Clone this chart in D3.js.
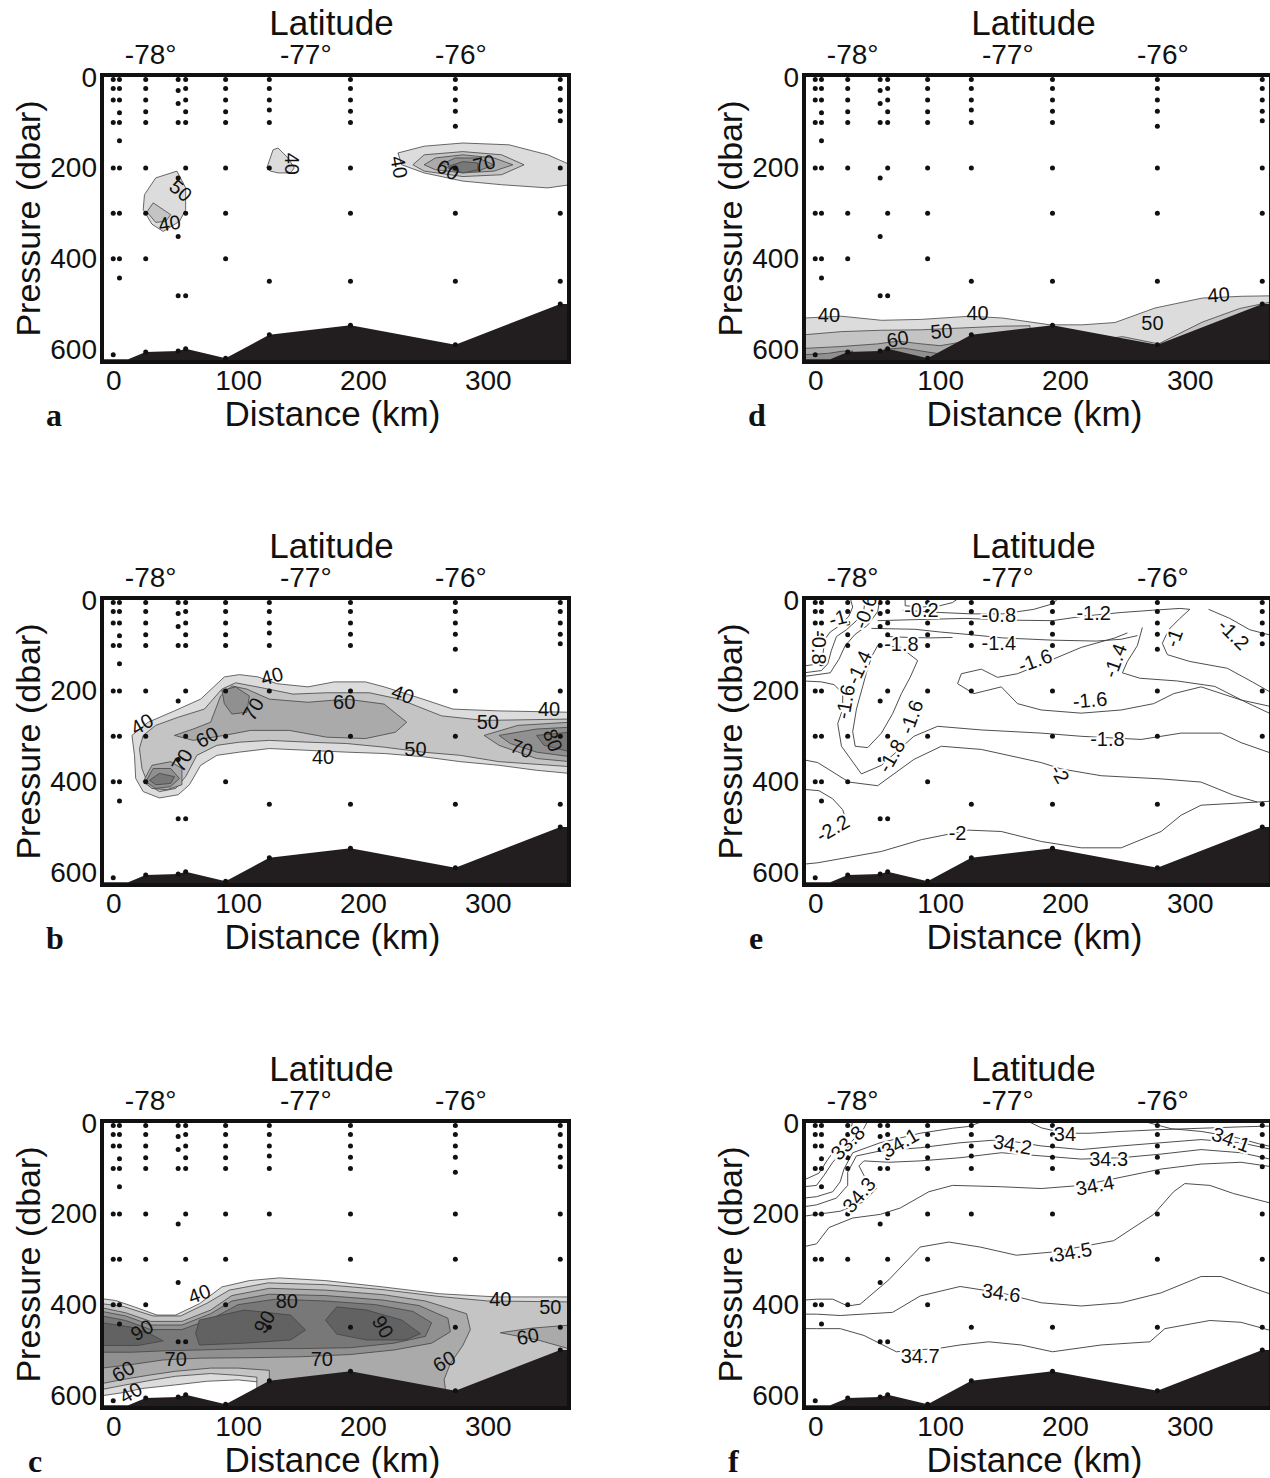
<!DOCTYPE html>
<html>
<head>
<meta charset="utf-8">
<script src="https://cdn.jsdelivr.net/npm/d3@7"></script>
<style>
  body { margin: 0; background: #fff; }
  svg { display: block; }
</style>
</head>
<body>
<div id="chart"></div>
<script>
// ---- shared section data ----
const stationKm = [0, 5, 26, 52, 58, 90, 125, 190, 274, 358];
const stationDepths = [
  [5, 25, 50, 100, 200, 300, 400, 612],
  [5, 25, 50, 78, 100, 140, 200, 300, 400, 443],
  [5, 25, 50, 76, 100, 200, 300, 400, 606],
  [5, 29, 58, 100, 222, 351, 482, 604],
  [5, 25, 50, 76, 100, 200, 300, 482, 599],
  [5, 25, 50, 76, 100, 200, 300, 400, 620],
  [5, 25, 50, 72, 100, 200, 450, 568],
  [5, 25, 50, 75, 100, 200, 300, 450, 547],
  [5, 25, 50, 75, 108, 200, 300, 450, 590],
  [5, 25, 50, 75, 96, 200, 300, 450, 500]
];
const bottomKm = [-9, 0, 12, 26, 52, 58, 90, 125, 190, 274, 358, 365];
const bottomP  = [622, 622, 622, 606, 604, 599, 620, 568, 547, 590, 500, 500];
const xTicks = [0, 100, 200, 300];
const yTicks = [0, 200, 400, 600];
const latTicks = [-78, -77, -76];
const latKmRange = [29.6, 278];   // km positions of -78° and -76°

// fill greys for each contour level
const levelGrey = {40: '#dcdcdc', 50: '#c4c4c4', 60: '#aaaaaa', 70: '#909090', 80: '#787878', 90: '#626262'};

// ---- panel a ----
const aFills = [
  [40, [[25,259],[34,222],[51,207],[58,244],[58,292],[53,318],[40,340],[31,324],[24,292]]],
  [50, [[27,297],[32,277],[46,303],[42,318],[34,320]]],
  [40, [[123,200],[128,160],[132,156],[140,178],[145,200],[142,211],[132,211],[126,207]]],
  [40, [[228,167],[249,152],[280,145],[317,149],[348,171],[366,193],[366,237],[348,244],[311,237],[280,229],[249,211],[231,193]]],
  [50, [[240,193],[249,171],[280,164],[311,171],[329,193],[311,215],[280,219],[249,207]]],
  [60, [[249,193],[258,178],[280,171],[305,178],[320,193],[305,207],[280,211],[258,204]]],
  [70, [[262,193],[274,178],[292,178],[305,193],[292,207],[274,207]]],
  [80, [[268,197],[280,186],[292,189],[292,204],[280,211]]]
];
const aLabels = [["50",54,250,40],["40",45,322,-10],["40",143,191,90],["40",229,198,80],["60",268,204,30],["70",297,190,-15]];

// ---- panel d ----
const dFills = [
  [40, [[-9,531],[21,527],[53,536],[85,534],[124,527],[150,531],[188,546],[214,546],[240,541],[272,509],[310,487],[342,483],[366,482],[366,628],[-9,628]]],
  [50, [[-9,568],[21,561],[53,558],[85,557],[117,553],[150,549],[172,548],[172,628],[-9,628]]],
  [50, [[225,580],[246,572],[275,588],[310,540],[340,510],[366,495],[366,628],[225,628]]],
  [60, [[-9,598],[20,594],[50,588],[66,582],[85,588],[100,592],[115,585],[125,575],[125,628],[-9,628]]],
  [70, [[-9,612],[10,609],[22,604],[30,604],[30,628],[-9,628]]],
  [70, [[55,600],[70,597],[90,606],[100,610],[100,628],[55,628]]]
];
const dLabels = [["40",11,524,0],["40",130,521,0],["40",323,480,-5],["50",101,560,-5],["60",66,577,-10],["50",270,542,0]];

// ---- panel b ----
const bFills = [
  [40, [[15,298],[28,269],[49,244],[70,218],[89,169],[101,164],[116,169],[131,184],[156,191],[177,180],[202,180],[217,191],[248,218],[272,240],[309,244],[366,247],[366,382],[339,375],[309,364],[278,356],[248,345],[217,338],[187,335],[156,331],[125,327],[101,335],[83,342],[70,364],[61,407],[52,429],[37,436],[24,422],[18,393],[17,342]]],
  [50, [[24,298],[34,276],[52,258],[73,240],[87,196],[98,182],[119,193],[144,207],[171,204],[205,204],[229,218],[263,255],[297,265],[366,262],[366,367],[309,356],[278,342],[248,335],[217,324],[187,316],[156,313],[125,309],[101,313],[83,320],[67,342],[58,389],[50,415],[37,422],[28,407],[23,371],[21,327]]],
  [60, [[49,298],[64,284],[78,269],[86,211],[95,189],[107,196],[125,218],[156,225],[187,218],[217,229],[235,269],[226,291],[202,305],[171,302],[141,287],[110,287],[89,298],[64,309]]],
  [60, [[24,400],[31,364],[46,356],[55,371],[55,407],[43,418],[31,415]]],
  [70, [[87,199],[98,191],[109,211],[107,247],[95,251],[89,228]]],
  [70, [[26,400],[32,371],[46,371],[53,393],[46,411],[34,415]]],
  [80, [[29,397],[37,382],[49,389],[46,404],[34,407]]],
  [60, [[297,298],[324,276],[366,269],[366,356],[339,349],[309,320]]],
  [70, [[309,298],[339,284],[366,280],[366,345],[339,335],[318,316]]],
  [80, [[339,298],[366,291],[366,334],[345,320]]]
];
const bLabels = [["40",23,273,-30],["40",127,167,-15],["40",232,207,20],["40",349,240,0],["40",168,345,0],
  ["50",300,269,0],["50",242,327,0],["60",75,302,-30],["60",185,225,0],["70",112,240,-60],["70",55,353,-60],
  ["70",327,327,20],["80",352,309,70]];

// ---- panel c ----
const cFills = [
  [40, [[-9,387],[2,391],[17,405],[35,423],[50,423],[69,398],[87,361],[109,347],[133,341],[170,347],[216,361],[261,376],[307,383],[366,383],[366,628],[121,628],[121,572],[100,566],[75,569],[50,577],[23,585],[8,594],[-9,601]]],
  [50, [[-9,398],[8,404],[32,425],[54,425],[75,397],[93,368],[124,352],[170,356],[216,367],[261,382],[300,392],[366,394],[366,628],[115,628],[115,560],[100,556],[78,552],[50,558],[32,566],[8,578],[-9,587]]],
  [60, [[-9,407],[10,418],[30,437],[55,437],[78,412],[95,380],[125,364],[170,368],[216,378],[250,392],[283,420],[286,455],[280,490],[270,530],[265,565],[268,628],[125,628],[125,545],[100,540],[78,540],[50,547],[30,555],[8,565],[-9,574]]],
  [60, [[310,462],[335,452],[366,445],[366,498],[340,478]]],
  [70, [[-9,415],[10,425],[30,445],[55,445],[78,420],[95,392],[125,377],[170,380],[216,390],[245,402],[268,430],[270,460],[255,485],[225,500],[190,510],[150,515],[110,517],[70,518],[40,522],[15,532],[-9,540]]],
  [80, [[-9,425],[10,435],[30,455],[55,455],[80,430],[100,400],[130,388],[170,392],[210,400],[240,415],[255,440],[250,470],[225,485],[190,495],[150,497],[110,497],[70,500],[40,502],[15,505],[-9,505]]],
  [90, [[-9,440],[15,450],[30,465],[40,480],[20,490],[-9,490]]],
  [90, [[66,463],[69,434],[105,412],[142,423],[154,456],[142,478],[105,485],[69,489]]],
  [90, [[170,434],[179,405],[203,412],[231,434],[246,464],[234,478],[203,478],[179,465]]]
];
const cLabels = [["40",69,376,-20],["40",310,387,0],["50",350,405,0],["60",332,470,-10],["60",265,525,-30],
  ["70",167,521,0],["70",50,521,0],["60",8,547,-30],["40",14,594,-30],["80",139,391,0],
  ["90",23,456,-30],["90",121,438,-60],["90",216,449,60]];

// ---- panel e (temperature lines) ----
const eLines = [
  [[-9,582],[2,579],[53,554],[85,528],[114,512],[123,507],[149,510],[181,532],[213,546],[245,546],[277,510],[293,474],[309,452],[354,445],[366,443]],
  [[-9,352],[2,358],[27,401],[50,409],[79,351],[101,322],[133,329],[181,358],[197,372],[229,387],[277,394],[309,401],[335,430],[354,445]],
  [[-9,417],[3,420],[14,438],[22,462],[25,488]],
  [[-9,178],[5,180],[15,186],[22,205],[22,240],[18,272],[21,322],[37,383],[53,364],[79,300],[98,278],[133,286],[181,293],[213,300],[261,307],[293,293],[325,293],[341,314],[366,338]],
  [[50,100],[68,103],[82,133],[76,170],[69,206],[62,250],[53,293],[42,325],[32,322],[30,290],[33,240],[38,190],[42,150],[46,120],[50,100]],
  [[366,235],[341,220],[309,191],[287,206],[271,228],[245,242],[213,249],[181,242],[162,228],[149,191],[127,206],[114,184],[117,162],[133,152],[146,170],[162,162],[181,141],[213,104],[240,83],[250,72]],
  [[45,62],[80,64],[100,70],[125,76],[150,83],[190,88],[225,90],[245,86],[258,78]],
  [[262,60],[258,100],[250,135],[246,160],[260,172],[290,178],[320,190],[345,225],[366,252]],
  [[50,45],[90,42],[120,40],[160,44],[190,45],[215,35],[245,27],[270,22],[292,18],[300,20]],
  [[300,20],[292,40],[283,65],[278,95],[282,120],[300,135],[330,150],[350,180],[366,205]],
  [[315,20],[332,40],[348,65],[366,78]],
  [[70,22],[100,27],[125,30],[150,30],[175,20],[190,8],[195,-5]],
  [[72,-5],[72,12],[85,15],[100,12],[110,5],[115,-5]],
  [[28,-5],[30,15],[27,35],[20,55],[12,70],[8,85],[6,120],[3,140],[-9,145]],
  [[40,-5],[39,20],[33,45],[25,65],[17,80],[13,110],[10,140],[5,155],[-9,160]],
  [[52,-5],[50,25],[42,55],[32,75],[24,100],[19,130],[12,160],[-9,168]],
  [[58,80],[75,82],[92,83],[110,82]]
];
const eLabels = [["-0.2",85,21,0],["-0.8",147,32,0],["-1.2",223,28,0],["-1.4",147,94,0],["-1.6",176,133,-20],
  ["-1.4",240,133,-70],["-1",287,83,-70],["-1.2",335,75,45],["-1.6",220,220,-5],["-1.8",234,307,0],
  ["-2",196,383,60],["-2",114,514,0],["-2.2",14,503,-30],["-1.8",61,343,-60],["-1.6",77,257,-70],
  ["-1.6",24,224,-80],["-1.4",35,148,-65],["-1.8",69,97,0],["-0.8",3,104,90],["-1",18,39,-15],["-0.6",40,25,-70]];

// ---- panel f (salinity lines) ----
const fLines = [
  [[-9,453],[1,453],[20,453],[39,468],[65,504],[100,496],[116,489],[139,482],[165,489],[190,504],[229,489],[268,482],[280,453],[316,435],[341,439],[366,458]],
  [[-9,421],[1,421],[20,424],[62,417],[84,381],[116,360],[149,374],[181,396],[213,403],[245,396],[277,374],[309,338],[325,338],[347,360],[366,378]],
  [[-9,390],[1,388],[14,388],[26,403],[36,399],[59,345],[84,273],[107,262],[132,273],[161,291],[190,284],[239,259],[271,201],[287,151],[296,133],[316,137],[335,155],[366,177]],
  [[-9,272],[1,266],[11,230],[30,209],[52,201],[68,187],[91,151],[110,137],[149,140],[181,144],[213,137],[245,119],[277,101],[309,90],[341,86],[366,96]],
  [[-9,205],[1,201],[20,194],[39,173],[49,144],[39,115],[35,94],[39,83],[59,86],[84,83],[116,76],[149,65],[181,72],[213,79],[245,76],[277,68],[309,58],[341,65],[366,80]],
  [[-9,184],[1,180],[17,165],[26,137],[26,108],[33,72],[52,61],[84,54],[116,43],[149,36],[181,50],[213,58],[245,50],[277,43],[309,36],[341,43],[366,58]],
  [[-9,165],[1,162],[14,151],[20,129],[23,101],[30,65],[52,43],[84,22],[110,11],[123,7],[135,-5]],
  [[262,-5],[285,12],[309,18],[335,30],[355,45],[366,52]],
  [[170,-5],[181,10],[200,22],[220,22],[245,18],[277,14],[309,11],[340,8],[366,6]],
  [[-9,140],[1,137],[7,115],[14,86],[23,58],[33,29],[39,11],[42,-5]],
  [[-9,125],[3,110],[10,80],[18,50],[28,20],[30,-5]]
];
const fLabels = [["34.7",84,514,0],["34.6",149,374,8],["34.5",206,284,-10],["34.4",224,137,-10],["34.3",235,79,0],
  ["34.3",35,158,-50],["34.2",158,47,10],["34.1",68,43,-30],["34.1",333,36,20],["34",200,23,0],["33.8",26,43,-45]];

// ---- layout ----
const W = 1270, H = 1478;
const colOff = [0, 702];
const rowOff = [0, 523, 1046];
const frame = {left: 102, right: 569, top: 75, bottom: 362};
const xDomain = [-9, 365];
const yDomain = [-5, 628];
const sans = "'Liberation Sans', Arial, Helvetica, sans-serif";

const svg = d3.select('#chart').append('svg')
  .attr('width', W).attr('height', H)
  .style('background', '#fff');

const panels = [
  {id: 'a', col: 0, row: 0, fills: aFills, lines: [], labels: aLabels, letterX: 46},
  {id: 'd', col: 1, row: 0, fills: dFills, lines: [], labels: dLabels, letterX: 748},
  {id: 'b', col: 0, row: 1, fills: bFills, lines: [], labels: bLabels, letterX: 46},
  {id: 'e', col: 1, row: 1, fills: [], lines: eLines, labels: eLabels, letterX: 749},
  {id: 'c', col: 0, row: 2, fills: cFills, lines: [], labels: cLabels, letterX: 28},
  {id: 'f', col: 1, row: 2, fills: [], lines: fLines, labels: fLabels, letterX: 728}
];

panels.forEach(drawPanel);

function drawPanel(p) {
  const ox = colOff[p.col], oy = rowOff[p.row];
  const x = d3.scaleLinear().domain(xDomain).range([frame.left + ox, frame.right + ox]);
  const y = d3.scaleLinear().domain(yDomain).range([frame.top + oy, frame.bottom + oy]);
  const g = svg.append('g').attr('class', 'panel-' + p.id);

  // clip to the frame
  const clipId = 'clip-' + p.id;
  svg.append('clipPath').attr('id', clipId).append('rect')
    .attr('x', x(xDomain[0])).attr('y', y(yDomain[0]))
    .attr('width', x(xDomain[1]) - x(xDomain[0]))
    .attr('height', y(yDomain[1]) - y(yDomain[0]));
  const inner = g.append('g').attr('clip-path', `url(#${clipId})`);

  const line = d3.line().x(d => x(d[0])).y(d => y(d[1]));

  // filled contour bands
  inner.selectAll('path.band').data(p.fills).join('path')
    .attr('class', 'band')
    .attr('d', d => line(d[1]) + 'Z')
    .attr('fill', d => levelGrey[d[0]])
    .attr('stroke', '#444')
    .attr('stroke-width', 0.8);

  // contour lines
  inner.selectAll('path.iso').data(p.lines).join('path')
    .attr('class', 'iso')
    .attr('d', line)
    .attr('fill', 'none')
    .attr('stroke', '#3a3a3a')
    .attr('stroke-width', 0.9);

  // bottom topography
  const bottom = bottomKm.map((k, i) => [k, bottomP[i]]);
  inner.append('path')
    .datum(bottom)
    .attr('d', d3.area().x(d => x(d[0])).y0(y(yDomain[1]) + 2).y1(d => y(d[1])))
    .attr('fill', '#221e1f');

  // sample positions
  const samples = [];
  stationKm.forEach((k, i) => stationDepths[i].forEach(dp => samples.push([k, dp])));
  inner.selectAll('circle.s').data(samples).join('circle')
    .attr('class', 's')
    .attr('cx', d => x(d[0])).attr('cy', d => y(d[1]))
    .attr('r', 2.5).attr('fill', '#111');

  // contour labels
  const halo = p.lines.length > 0;
  inner.selectAll('text.cl').data(p.labels).join('text')
    .attr('class', 'cl')
    .attr('transform', d => `translate(${x(d[1])},${y(d[2])}) rotate(${d[3]})`)
    .attr('text-anchor', 'middle')
    .attr('dy', '0.35em')
    .attr('font-family', sans)
    .attr('font-size', 20)
    .attr('fill', '#111')
    .attr('stroke', halo ? '#fff' : 'none')
    .attr('stroke-width', halo ? 4 : 0)
    .attr('paint-order', 'stroke')
    .text(d => d[0]);

  // frame
  g.append('rect')
    .attr('x', x(xDomain[0])).attr('y', y(yDomain[0]))
    .attr('width', x(xDomain[1]) - x(xDomain[0]))
    .attr('height', y(yDomain[1]) - y(yDomain[0]))
    .attr('fill', 'none').attr('stroke', '#111').attr('stroke-width', 4);

  // axes
  const yAxis = g.append('g')
    .attr('transform', `translate(${x(xDomain[0])},0)`)
    .call(d3.axisLeft(y).tickValues(yTicks).tickSize(0).tickPadding(5));
  const xAxis = g.append('g')
    .attr('transform', `translate(0,${y(yDomain[1])})`)
    .call(d3.axisBottom(x).tickValues(xTicks).tickSize(0).tickPadding(8));
  const lat = d3.scaleLinear().domain([-78, -76]).range([x(latKmRange[0]), x(latKmRange[1])]);
  const topAxis = g.append('g')
    .attr('transform', `translate(0,${y(yDomain[0])})`)
    .call(d3.axisTop(lat).tickValues(latTicks).tickSize(0).tickPadding(11).tickFormat(d => d + '°'));
  [yAxis, xAxis, topAxis].forEach(a => {
    a.select('.domain').remove();
    a.selectAll('text').attr('font-family', sans).attr('font-size', 28).attr('fill', '#111');
  });

  // titles
  const cx = (x(xDomain[0]) + x(xDomain[1])) / 2;
  g.append('text').attr('x', cx - 4).attr('y', oy + 35)
    .attr('text-anchor', 'middle').attr('font-family', sans).attr('font-size', 35).attr('fill', '#111')
    .text('Latitude');
  g.append('text').attr('x', cx - 3).attr('y', oy + 426)
    .attr('text-anchor', 'middle').attr('font-family', sans).attr('font-size', 35).attr('fill', '#111')
    .text('Distance (km)');
  g.append('text')
    .attr('transform', `translate(${ox + 40},${(y(yDomain[0]) + y(yDomain[1])) / 2}) rotate(-90)`)
    .attr('text-anchor', 'middle').attr('font-family', sans).attr('font-size', 34).attr('fill', '#111')
    .text('Pressure (dbar)');
  g.append('text').attr('x', p.letterX).attr('y', oy + 426)
    .attr('font-family', "'Liberation Serif', 'Times New Roman', serif")
    .attr('font-weight', 'bold').attr('font-size', 32).attr('fill', '#111')
    .text(p.id);
}
</script>
</body>
</html>
